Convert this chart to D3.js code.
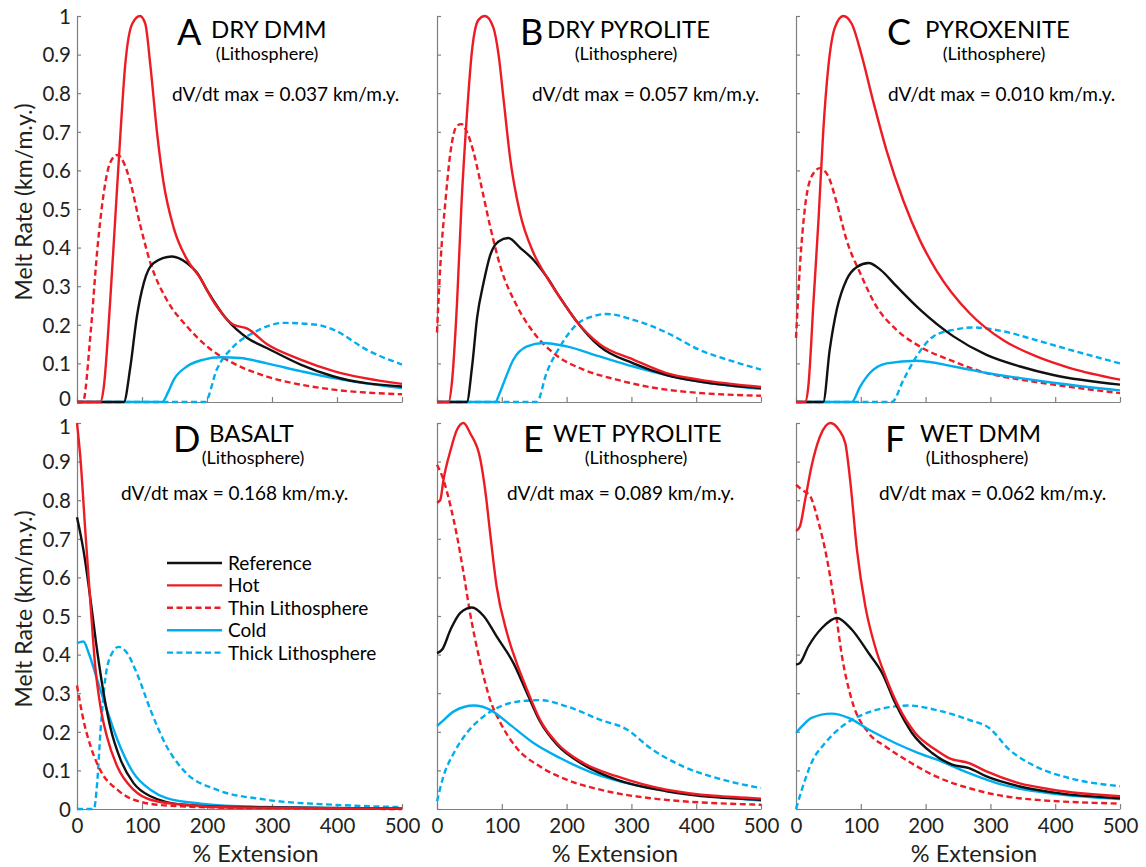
<!DOCTYPE html>
<html><head><meta charset="utf-8">
<script src="https://cdn.jsdelivr.net/npm/d3@7"></script>
<style>
html,body{margin:0;padding:0;background:#fff;}
svg{display:block;font-family:Lato,"Noto Sans",sans-serif;}
</style></head>
<body>
<svg id="chart" width="1146" height="867"></svg>
<script>
// ---------- tick labels ----------
const xTicks = [0, 100, 200, 300, 400, 500];
const xTickLabels = ["0", "100", "200", "300", "400", "500"];
const yTicks = [0, 0.1, 0.2, 0.3, 0.4, 0.5, 0.6, 0.7, 0.8, 0.9, 1];
const yTickLabels = ["0", "0.1", "0.2", "0.3", "0.4", "0.5", "0.6", "0.7", "0.8", "0.9", "1"];

// ---------- panel texts ----------
const panelLetters = ["A", "B", "C", "D", "E", "F"];
const panelNames = ["DRY DMM", "DRY PYROLITE", "PYROXENITE", "BASALT", "WET PYROLITE", "WET DMM"];
const dvMax = ["0.037", "0.057", "0.010", "0.168", "0.089", "0.062"];
const seriesNames = ["Reference", "Hot", "Thin Lithosphere", "Cold", "Thick Lithosphere"];

// ---------- series: [% extension, normalized melt rate] ----------
// A  DRY DMM
const dryDmmRef = [[0,0],[72,0],[82,0.09],[92,0.22],[103,0.31],[118,0.36],[146,0.377],[169,0.36],[185,0.334],[200,0.29],[231,0.213],[262,0.166],[292,0.14],[344,0.097],[395,0.066],[500,0.04]];
const dryDmmHot = [[0,0],[36,0],[41,0.036],[51,0.26],[59,0.48],[67,0.70],[74,0.87],[85,0.98],[97,1.0],[105,0.98],[113,0.87],[123,0.70],[133,0.57],[149,0.45],[169,0.37],[190,0.32],[210,0.26],[241,0.20],[262,0.19],[292,0.15],[344,0.11],[395,0.08],[500,0.047]];
const dryDmmThin = [[0,0],[9,0],[21,0.18],[31,0.39],[41,0.54],[51,0.62],[62,0.64],[72,0.62],[82,0.57],[97,0.46],[113,0.36],[138,0.265],[169,0.196],[200,0.144],[241,0.10],[292,0.066],[344,0.045],[395,0.032],[500,0.02]];
const dryDmmCold = [[0,0],[131,0],[140,0.025],[149,0.058],[169,0.092],[195,0.11],[221,0.116],[251,0.114],[292,0.10],[344,0.08],[395,0.062],[500,0.036]];
const dryDmmThick = [[0,0],[197,0],[215,0.084],[241,0.144],[272,0.18],[318,0.205],[369,0.2],[395,0.187],[446,0.135],[500,0.097]];
// B  DRY PYROLITE
const dryPyrRef = [[0,0],[46,0],[54,0.09],[62,0.22],[72,0.31],[82,0.38],[95,0.416],[110,0.425],[128,0.40],[149,0.368],[169,0.325],[190,0.27],[215,0.21],[251,0.144],[303,0.10],[354,0.07],[405,0.053],[500,0.036]];
const dryPyrHot = [[0,0],[18,0],[23,0.05],[31,0.26],[38,0.52],[46,0.74],[54,0.91],[64,0.99],[74,1.0],[87,0.97],[95,0.90],[103,0.78],[113,0.63],[128,0.49],[149,0.386],[169,0.325],[190,0.27],[215,0.21],[251,0.15],[303,0.11],[354,0.075],[405,0.058],[500,0.039]];
const dryPyrThin = [[0,0.18],[5,0.35],[13,0.52],[21,0.65],[31,0.716],[38,0.72],[46,0.70],[56,0.65],[67,0.57],[82,0.455],[98,0.35],[123,0.25],[149,0.18],[185,0.12],[226,0.084],[277,0.058],[354,0.032],[500,0.016]];
const dryPyrCold = [[0,0],[90,0],[96,0.02],[103,0.05],[118,0.11],[139,0.144],[164,0.153],[200,0.144],[251,0.118],[303,0.092],[354,0.07],[405,0.053],[500,0.034]];
const dryPyrThick = [[0,0],[154,0],[169,0.075],[190,0.144],[215,0.2],[241,0.222],[262,0.228],[303,0.213],[354,0.18],[405,0.135],[457,0.105],[500,0.084]];
// C  PYROXENITE
const pyxRef = [[0,0],[42,0],[52,0.135],[63,0.24],[78,0.317],[94,0.35],[112,0.36],[130,0.343],[155,0.30],[191,0.24],[243,0.17],[294,0.122],[346,0.092],[397,0.07],[500,0.045]];
const pyxHot = [[0,0],[14,0],[19,0.04],[27,0.26],[35,0.48],[42,0.70],[50,0.87],[60,0.97],[73,1.0],[86,0.98],[101,0.90],[119,0.78],[140,0.65],[166,0.52],[191,0.42],[217,0.34],[268,0.23],[320,0.16],[371,0.118],[423,0.088],[500,0.058]];
const pyxThin = [[0,0.166],[6,0.35],[14,0.506],[24,0.584],[37,0.606],[50,0.584],[63,0.515],[78,0.42],[99,0.334],[124,0.248],[155,0.187],[191,0.144],[243,0.105],[294,0.075],[346,0.058],[397,0.045],[500,0.023]];
const pyxCold = [[0,0],[86,0],[99,0.04],[114,0.075],[140,0.10],[186,0.107],[243,0.092],[294,0.075],[346,0.062],[397,0.05],[500,0.03]];
const pyxThick = [[0,0],[148,0],[166,0.058],[186,0.118],[212,0.17],[243,0.187],[274,0.193],[320,0.183],[371,0.16],[423,0.135],[500,0.10]];
// D  BASALT
const basaltRef = [[0,0.756],[10,0.67],[21,0.54],[31,0.41],[41,0.30],[51,0.214],[67,0.128],[87,0.067],[113,0.033],[164,0.011],[241,0.005],[500,0.001]];
const basaltHot = [[0,1.0],[5,0.914],[13,0.715],[21,0.525],[28,0.37],[36,0.266],[46,0.188],[62,0.11],[87,0.05],[113,0.024],[164,0.011],[241,0.004],[500,0.001]];
const basaltThin = [[0,0.32],[10,0.23],[21,0.162],[36,0.10],[62,0.05],[87,0.024],[138,0.009],[241,0.003],[500,0.0]];
const basaltCold = [[0,0.43],[10,0.434],[18,0.404],[31,0.335],[46,0.257],[62,0.18],[87,0.093],[113,0.05],[138,0.028],[190,0.014],[292,0.005],[500,0.001]];
const basaltThick = [[0,0],[26,0],[31,0.067],[36,0.197],[44,0.344],[54,0.404],[64,0.42],[77,0.404],[92,0.352],[113,0.257],[138,0.162],[164,0.10],[215,0.05],[292,0.024],[395,0.011],[500,0.005]];
// E  WET PYROLITE
const wetPyrRef = [[0,0.404],[8,0.413],[21,0.465],[36,0.508],[54,0.522],[72,0.50],[92,0.447],[118,0.378],[139,0.30],[159,0.227],[185,0.167],[226,0.115],[277,0.076],[354,0.046],[500,0.024]];
const wetPyrHot = [[0,0.793],[5,0.80],[10,0.853],[21,0.93],[31,0.983],[41,1.0],[51,0.974],[67,0.905],[75,0.818],[82,0.715],[92,0.577],[108,0.456],[123,0.378],[139,0.309],[159,0.231],[185,0.171],[226,0.119],[277,0.085],[354,0.05],[500,0.027]];
const wetPyrThin = [[0,0.892],[10,0.853],[21,0.784],[31,0.706],[41,0.611],[51,0.508],[67,0.378],[82,0.283],[98,0.223],[123,0.158],[159,0.11],[200,0.076],[252,0.05],[329,0.028],[500,0.011]];
const wetPyrCold = [[0,0.215],[8,0.227],[26,0.253],[57,0.268],[82,0.257],[113,0.218],[149,0.171],[190,0.132],[241,0.093],[303,0.063],[380,0.041],[500,0.022]];
const wetPyrThick = [[0,0.02],[10,0.085],[26,0.145],[46,0.197],[72,0.24],[98,0.266],[128,0.279],[159,0.282],[200,0.266],[252,0.231],[293,0.206],[329,0.158],[380,0.11],[432,0.08],[500,0.054]];
// F  WET DMM
const wetDmmRef = [[0,0.374],[6,0.378],[19,0.421],[40,0.469],[63,0.495],[86,0.465],[112,0.404],[133,0.352],[153,0.275],[179,0.197],[210,0.145],[241,0.115],[267,0.106],[293,0.085],[344,0.059],[396,0.043],[500,0.028]];
const wetDmmHot = [[0,0.72],[6,0.732],[14,0.80],[24,0.888],[37,0.965],[53,1.0],[66,0.983],[76,0.948],[84,0.845],[94,0.672],[107,0.525],[122,0.421],[138,0.344],[158,0.266],[184,0.197],[215,0.154],[236,0.132],[267,0.119],[293,0.098],[344,0.067],[396,0.05],[500,0.033]];
const wetDmmThin = [[0,0.84],[9,0.827],[22,0.81],[35,0.741],[47,0.655],[60,0.525],[71,0.395],[86,0.283],[112,0.197],[138,0.162],[174,0.123],[215,0.085],[267,0.054],[344,0.028],[500,0.014]];
const wetDmmCold = [[0,0.197],[9,0.214],[24,0.236],[55,0.247],[81,0.236],[112,0.206],[153,0.171],[189,0.145],[225,0.123],[267,0.093],[318,0.063],[396,0.04],[500,0.026]];
const wetDmmThick = [[0,0],[9,0.05],[24,0.12],[45,0.171],[71,0.214],[102,0.244],[138,0.262],[174,0.268],[215,0.257],[267,0.231],[298,0.21],[329,0.154],[370,0.11],[422,0.08],[500,0.059]];

// series order per panel: Reference, Hot, Thin, Cold, Thick
const panelSeries = [
  [dryDmmRef, dryDmmHot, dryDmmThin, dryDmmCold, dryDmmThick],
  [dryPyrRef, dryPyrHot, dryPyrThin, dryPyrCold, dryPyrThick],
  [pyxRef, pyxHot, pyxThin, pyxCold, pyxThick],
  [basaltRef, basaltHot, basaltThin, basaltCold, basaltThick],
  [wetPyrRef, wetPyrHot, wetPyrThin, wetPyrCold, wetPyrThick],
  [wetDmmRef, wetDmmHot, wetDmmThin, wetDmmCold, wetDmmThick]
];

// ---------- styles & layout ----------
const RED = "#ED1C24", CYAN = "#00AEEF", BLACK = "#111";
const seriesStyle = [
  {color: BLACK, dash: null},
  {color: RED, dash: null},
  {color: RED, dash: "6,3.5"},
  {color: CYAN, dash: null},
  {color: CYAN, dash: "6,3.5"}
];
const drawOrder = [4, 2, 3, 0, 1];

const colX = [[77, 402], [437, 761], [796, 1120]];
const rowY = [[16, 402], [423, 809]];
// title offsets relative to panel left: letter, name, litho center, dv start
const titleOffsets = [
  [100, 134, 190, 95], [83, 110, 189, 95], [91, 129, 198, 92],
  [96, 132, 176, 44], [86, 116, 199, 70], [89, 124, 181, 83]
];

const svg = d3.select("#chart");
const AXIS = "#7f7f7f";

panelSeries.forEach((series, i) => {
  const col = i % 3, row = Math.floor(i / 3);
  const [x0, x1] = colX[col];
  const [yTop, yBot] = rowY[row];
  const x = d3.scaleLinear().domain([0, 500]).range([x0, x1]);
  const y = d3.scaleLinear().domain([0, 1]).range([yBot, yTop]);
  const g = svg.append("g");

  // axes
  const yAxis = d3.axisLeft(y).tickValues(yTicks).tickSizeInner(-4).tickSizeOuter(0).tickPadding(6)
    .tickFormat((d, k) => col === 0 ? yTickLabels[k] : "");
  const ya = g.append("g").attr("transform", `translate(${x0},0)`).call(yAxis);
  const xAxis = d3.axisBottom(x).tickValues(xTicks).tickSizeInner(-5).tickSizeOuter(0)
    .tickFormat((d, k) => row === 1 ? xTickLabels[k] : "");
  const xa = g.append("g").attr("transform", `translate(0,${yBot})`).call(xAxis);
  [ya, xa].forEach(a => {
    a.select(".domain").attr("stroke", AXIS).attr("stroke-width", 1.2);
    a.selectAll(".tick line").attr("stroke", AXIS).attr("stroke-width", 1.2);
    a.selectAll("text").attr("fill", "#231f20").style("font-size", "20.5px").style("font-family", "Lato, sans-serif");
  });
  xa.selectAll("text").attr("y", 24).attr("dy", 0);
  ya.selectAll("text").attr("dy", "0.36em");
  // nudge the end labels apart where the two rows meet, as in the figure
  ya.selectAll(".tick text").attr("y", d => (row === 0 && d === 0) ? -4 : (row === 1 && d === 1) ? 3 : 0);

  // lines
  const line = d3.line().x(d => x(d[0])).y(d => y(d[1])).curve(d3.curveMonotoneX);
  drawOrder.forEach(s => {
    g.append("path").datum(series[s]).attr("d", line)
      .attr("fill", "none").attr("stroke", seriesStyle[s].color)
      .attr("stroke-width", 2.4)
      .attr("stroke-dasharray", seriesStyle[s].dash)
      .attr("stroke-linejoin", "round");
  });

  // titles
  const off = titleOffsets[i];
  const letterY = yTop + 29, nameY = yTop + (row === 0 ? 22 : 19), lithoY = yTop + (row === 0 ? 44 : 41), dvY = yTop + (row === 0 ? 85 : 77);
  g.append("text").attr("x", x0 + off[0]).attr("y", letterY).text(panelLetters[i])
    .style("font-size", "36px").attr("fill", "#000");
  g.append("text").attr("x", x0 + off[1]).attr("y", nameY).text(panelNames[i])
    .style("font-size", "24px").attr("fill", "#000");
  g.append("text").attr("x", x0 + off[2]).attr("y", lithoY).attr("text-anchor", "middle").text("(Lithosphere)")
    .style("font-size", "18px").attr("fill", "#000");
  g.append("text").attr("x", x0 + off[3]).attr("y", dvY).text(`dV/dt max = ${dvMax[i]} km/m.y.`)
    .style("font-size", "19px").attr("fill", "#000");

  // axis titles
  if (col === 0) {
    const cy = (yTop + yBot) / 2 - 7;
    g.append("text").attr("transform", `translate(32,${cy}) rotate(-90)`).attr("text-anchor", "middle")
      .text("Melt Rate (km/m.y.)").style("font-size", "23px").attr("fill", "#231f20");
  }
  if (row === 1) {
    g.append("text").attr("x", (x0 + x1) / 2 + 16).attr("y", 862).attr("text-anchor", "middle")
      .text("% Extension").style("font-size", "23.5px").attr("fill", "#231f20");
  }

  // legend in panel D
  if (i === 3) {
    const lg = g.append("g");
    seriesNames.forEach((name, k) => {
      const ly = 563 + k * 22.4;
      lg.append("line").attr("x1", 167).attr("x2", 222).attr("y1", ly).attr("y2", ly)
        .attr("stroke", seriesStyle[k].color).attr("stroke-width", 2.4)
        .attr("stroke-dasharray", seriesStyle[k].dash);
      lg.append("text").attr("x", 228).attr("y", ly + 7).text(name)
        .style("font-size", "19px").attr("fill", "#000");
    });
  }
});
</script>
</body></html>
